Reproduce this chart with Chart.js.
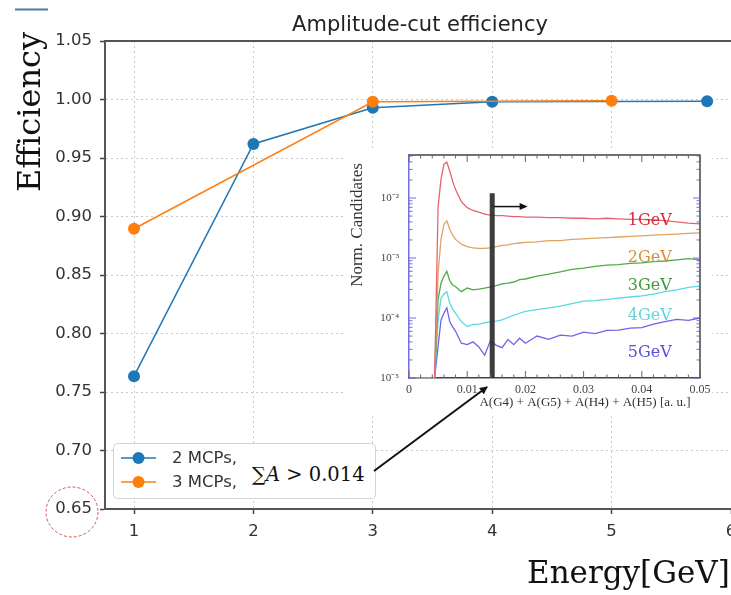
<!DOCTYPE html>
<html lang="en">
<head>
<meta charset="UTF-8">
<title>Amplitude-cut efficiency</title>
<script src="https://cdn.jsdelivr.net/npm/chart.js"></script>
<style>
  html, body { margin: 0; padding: 0; background: #fff; }
  #wrap { position: relative; width: 731px; height: 595px; overflow: hidden; }
  #mainChart { position: absolute; left: 0; top: 0; }
  #insetBox { position: absolute; left: 345px; top: 150px; width: 367px; height: 263px; background: #fff; }
  #cutLabel {
    position: absolute; left: 243px; top: 451px; width: 131px; height: 47px;
    background: #fff; font-family: "DejaVu Serif"; font-size: 19.5px; line-height: 47px;
    color: #111; padding-left: 9px; box-sizing: border-box; white-space: nowrap;
  }
  #overlay { position: absolute; left: 0; top: 0; pointer-events: none; }
</style>
</head>
<body>
<div id="wrap">
  <!-- canvas is a bit wider than the page: the plot runs past the right edge and gets cropped -->
  <canvas id="mainChart" width="745" height="595"></canvas>
  <div id="insetBox"><canvas id="insetChart" width="367" height="263"></canvas></div>
  <div id="cutLabel">&sum;<i>A</i> &gt; 0.014</div>
  <svg id="overlay" width="731" height="595">
    <defs>
      <marker id="head" markerWidth="8" markerHeight="8" refX="7" refY="4" orient="auto" markerUnits="userSpaceOnUse">
        <path d="M0,0 L8,4 L0,8 z" fill="#111"/>
      </marker>
    </defs>
    <line x1="374" y1="471" x2="487" y2="387" stroke="#111" stroke-width="2" marker-end="url(#head)"/>
  </svg>
</div>

<script>
// main plot: efficiency vs energy
const seriesLabels = ['2 MCPs,', '3 MCPs,'];
const energies2 = [1, 2, 3, 4, 5.8];
const eff2 = [0.7635, 0.962, 0.993, 0.998, 0.9985];
const energies3 = [1, 3, 5];
const eff3 = [0.8895, 0.998, 0.999];
const xTicks = [1, 2, 3, 4, 5, 6];
const yTicks = [0.65, 0.70, 0.75, 0.80, 0.85, 0.90, 0.95, 1.00, 1.05];

// inset: amplitude sum distributions
const ampBins = [0, 0.0044, 0.005, 0.0055, 0.006, 0.0065, 0.007, 0.0075, 0.008, 0.009, 0.010,
  0.011, 0.012, 0.013, 0.014, 0.015, 0.016, 0.017, 0.018, 0.019, 0.020,
  0.022, 0.024, 0.026, 0.028, 0.030, 0.032, 0.034, 0.036, 0.038, 0.040, 0.042, 0.044, 0.046, 0.048, 0.050];
const hist1GeV = [1e-5, 1e-5, 7.2e-3, 2.04e-2, 3.63e-2, 3.98e-2, 2.82e-2, 1.91e-2, 1.38e-2, 8.7e-3, 6.9e-3,
  6.2e-3, 5.8e-3, 5.4e-3, 5.2e-3, 5.1e-3, 5.1e-3, 5.0e-3, 4.9e-3, 4.9e-3, 4.8e-3,
  4.8e-3, 4.7e-3, 4.7e-3, 4.6e-3, 4.6e-3, 4.5e-3, 4.6e-3, 4.5e-3, 4.4e-3, 4.4e-3, 4.3e-3, 4.2e-3, 4.0e-3, 3.8e-3, 3.7e-3];
const hist2GeV = [1e-5, 1e-5, 5.6e-4, 2.04e-3, 3.63e-3, 4.17e-3, 3.02e-3, 2.40e-3, 2.04e-3, 1.70e-3, 1.55e-3,
  1.48e-3, 1.45e-3, 1.45e-3, 1.48e-3, 1.55e-3, 1.62e-3, 1.66e-3, 1.74e-3, 1.78e-3, 1.82e-3,
  1.86e-3, 1.95e-3, 1.95e-3, 2.04e-3, 2.09e-3, 2.14e-3, 2.19e-3, 2.24e-3, 2.29e-3, 2.34e-3, 2.40e-3, 2.45e-3, 2.51e-3, 2.57e-3, 2.63e-3];
const hist3GeV = [1e-5, 1e-5, 2.04e-4, 3.80e-4, 5.0e-4, 6.0e-4, 4.17e-4, 3.55e-4, 3.31e-4, 2.75e-4, 3.16e-4,
  2.95e-4, 3.02e-4, 3.16e-4, 3.31e-4, 3.47e-4, 3.72e-4, 3.80e-4, 3.98e-4, 4.37e-4, 4.47e-4,
  5.0e-4, 5.37e-4, 5.89e-4, 6.46e-4, 6.76e-4, 7.24e-4, 7.59e-4, 7.76e-4, 8.13e-4, 8.32e-4, 8.71e-4, 8.91e-4, 9.33e-4, 9.77e-4, 9.33e-4];
const hist4GeV = [1e-5, 1e-5, 9.3e-5, 2.14e-4, 2.51e-4, 2.75e-4, 1.78e-4, 1.41e-4, 1.20e-4, 8.7e-5, 7.2e-5,
  7.8e-5, 7.9e-5, 8.3e-5, 8.7e-5, 8.9e-5, 9.3e-5, 1.02e-4, 1.12e-4, 1.20e-4, 1.29e-4,
  1.38e-4, 1.48e-4, 1.58e-4, 1.74e-4, 1.91e-4, 1.95e-4, 2.04e-4, 2.14e-4, 2.24e-4, 2.34e-4, 2.51e-4, 2.75e-4, 2.95e-4, 3.24e-4, 3.39e-4];
const hist5GeV = [1e-5, 1e-5, 3.4e-5, 9.3e-5, 1.20e-4, 1.48e-4, 8.7e-5, 7.1e-5, 6.0e-5, 3.8e-5, 3.6e-5,
  4.0e-5, 3.3e-5, 2.4e-5, 4.2e-5, 3.5e-5, 3.2e-5, 4.4e-5, 3.6e-5, 4.6e-5, 3.8e-5,
  5.0e-5, 4.4e-5, 5.2e-5, 5.0e-5, 5.8e-5, 5.5e-5, 6.2e-5, 6.3e-5, 6.8e-5, 6.9e-5, 7.9e-5, 8.7e-5, 9.5e-5, 9.1e-5, 1.0e-4];
const energyLabels = ['1GeV', '2GeV', '3GeV', '4GeV', '5GeV'];
const ampTicks = [0, 0.01, 0.02, 0.03, 0.04, 0.05];
const candTicks = [1e-5, 1e-4, 1e-3, 1e-2];
const ampCut = 0.0143;
const cutTop = 0.012;
const arrowLevel = 0.0072;
const arrowEnd = 0.0197;

const toPoints = (xs, ys) => xs.map((x, i) => ({ x: x, y: ys[i] }));

// ---------------- main chart ----------------
const mainDecor = {
  id: 'mainDecor',
  afterDatasetsDraw(chart) {
    const { ctx, chartArea: a } = chart;
    ctx.save();
    // top spine
    ctx.strokeStyle = '#555';
    ctx.lineWidth = 2;
    ctx.beginPath();
    ctx.moveTo(a.left - 1, a.top);
    ctx.lineTo(a.right, a.top);
    ctx.stroke();

    // legend box
    ctx.fillStyle = 'rgba(255,255,255,0.85)';
    ctx.strokeStyle = '#d4d4d4';
    ctx.lineWidth = 1;
    ctx.beginPath();
    ctx.roundRect(113.5, 443.5, 262, 55, 4);
    ctx.fill();
    ctx.stroke();
    chart.data.datasets.forEach((ds, i) => {
      const yy = 458 + i * 24;
      ctx.strokeStyle = ds.borderColor;
      ctx.lineWidth = 1.5;
      ctx.beginPath();
      ctx.moveTo(121, yy);
      ctx.lineTo(156, yy);
      ctx.stroke();
      ctx.fillStyle = ds.backgroundColor;
      ctx.beginPath();
      ctx.arc(138.5, yy, 6, 0, Math.PI * 2);
      ctx.fill();
      ctx.fillStyle = '#333';
      ctx.font = '16.5px "DejaVu Sans"';
      ctx.textBaseline = 'middle';
      ctx.fillText(ds.label, 172, yy + 1);
    });
    ctx.restore();
  },
  afterDraw(chart) {
    const { ctx } = chart;
    ctx.save();
    // title
    ctx.fillStyle = '#222';
    ctx.font = '21px "DejaVu Sans"';
    ctx.textAlign = 'center';
    ctx.textBaseline = 'alphabetic';
    ctx.fillText('Amplitude-cut efficiency', 420, 31);

    // axis titles
    ctx.fillStyle = '#111';
    ctx.font = '31px "DejaVu Serif"';
    ctx.textAlign = 'left';
    ctx.fillText('Energy[GeV]', 527, 583);
    ctx.save();
    ctx.font = '32px "DejaVu Serif"';
    ctx.translate(40, 112);
    ctx.rotate(-Math.PI / 2);
    ctx.textAlign = 'center';
    ctx.fillText('Efficiency', 0, 0);
    ctx.restore();

    // red dashed circle round the 0.65 label
    ctx.strokeStyle = 'rgba(205,60,60,0.85)';
    ctx.lineWidth = 1;
    ctx.setLineDash([3, 2]);
    ctx.beginPath();
    ctx.ellipse(72, 512, 26, 25, 0, 0, Math.PI * 2);
    ctx.stroke();
    ctx.setLineDash([]);

    // small blue bar top-left
    ctx.strokeStyle = '#4a7fa0';
    ctx.lineWidth = 2;
    ctx.beginPath();
    ctx.moveTo(15, 9.5);
    ctx.lineTo(48, 9.5);
    ctx.stroke();
    ctx.restore();
  }
};

new Chart(document.getElementById('mainChart'), {
  type: 'line',
  data: {
    datasets: [{
      label: seriesLabels[0],
      data: toPoints(energies2, eff2),
      borderColor: '#1f77b4',
      backgroundColor: '#1f77b4',
      borderWidth: 1.5,
      pointRadius: 6,
      pointBorderWidth: 0,
      order: 1
    }, {
      label: seriesLabels[1],
      data: toPoints(energies3, eff3),
      borderColor: '#ff7f0e',
      backgroundColor: '#ff7f0e',
      borderWidth: 1.5,
      pointRadius: 6,
      pointBorderWidth: 0,
      order: 0
    }]
  },
  options: {
    responsive: false,
    animation: false,
    layout: { padding: { top: 41, left: 0, right: 0, bottom: 0 } },
    plugins: { legend: { display: false }, tooltip: { enabled: false } },
    scales: {
      x: {
        type: 'linear',
        min: 0.757,
        max: 6.067,
        afterBuildTicks: s => { s.ticks = xTicks.map(v => ({ value: v })); },
        afterFit: s => { s.height = 86; s.paddingLeft = 0; s.paddingRight = 0; },
        grid: { color: '#c8c8c8', lineWidth: 1, tickLength: 5, tickColor: '#444', tickWidth: 1.5, tickBorderDash: [] },
        border: { color: '#555', width: 2, dash: [2, 3] },
        ticks: { font: { family: 'DejaVu Sans', size: 16.5 }, color: '#333', padding: 8, maxRotation: 0, autoSkip: false, callback: v => String(v) }
      },
      y: {
        min: 0.65,
        max: 1.05,
        afterBuildTicks: s => { s.ticks = yTicks.map(v => ({ value: v })); },
        afterFit: s => { s.width = 105; },
        grid: { color: '#c8c8c8', lineWidth: 1, tickLength: 5, tickColor: '#444', tickWidth: 1.5, tickBorderDash: [] },
        border: { color: '#555', width: 2, dash: [2, 3] },
        ticks: { font: { family: 'DejaVu Sans', size: 16.5 }, color: '#333', padding: 8, autoSkip: false, callback: v => v.toFixed(2) }
      }
    }
  },
  plugins: [mainDecor]
});

// ---------------- inset chart ----------------
const insetDecor = {
  id: 'insetDecor',
  afterDatasetsDraw(chart) {
    const { ctx, chartArea: a, scales: { x, y } } = chart;
    ctx.save();
    // frame
    ctx.strokeStyle = '#444';
    ctx.lineWidth = 1.5;
    ctx.beginPath();
    ctx.moveTo(a.left, a.top);
    ctx.lineTo(a.right, a.top);
    ctx.lineTo(a.right, a.bottom);
    ctx.stroke();

    // inward ticks
    ctx.lineWidth = 1;
    ctx.strokeStyle = '#666';
    for (let v = 0; v <= 0.0501; v += 0.002) {
      const px = x.getPixelForValue(v);
      const len = Math.abs(v * 100 - Math.round(v * 100)) < 1e-6 ? 7 : 3.5;
      ctx.beginPath();
      ctx.moveTo(px, a.bottom); ctx.lineTo(px, a.bottom - len);
      ctx.moveTo(px, a.top); ctx.lineTo(px, a.top + len);
      ctx.stroke();
    }
    ctx.strokeStyle = 'rgba(100,95,215,0.9)';
    for (let d = -5; d <= -2; d++) {
      for (let m = 1; m <= 9; m++) {
        const v = m * Math.pow(10, d);
        if (v > y.max) break;
        const py = y.getPixelForValue(v);
        const len = m === 1 ? 7 : 3.5;
        ctx.beginPath();
        ctx.moveTo(a.left, py); ctx.lineTo(a.left + len, py);
        ctx.moveTo(a.right, py); ctx.lineTo(a.right - len, py);
        ctx.stroke();
      }
    }

    // arrow head on the cut arrow
    const hx = x.getPixelForValue(arrowEnd);
    const hy = y.getPixelForValue(arrowLevel);
    ctx.fillStyle = '#111';
    ctx.beginPath();
    ctx.moveTo(hx + 4, hy);
    ctx.lineTo(hx - 4, hy - 3.5);
    ctx.lineTo(hx - 4, hy + 3.5);
    ctx.closePath();
    ctx.fill();

    // energy labels
    const labelY = [3.55e-3, 8.6e-4, 2.93e-4, 9.3e-5, 2.24e-5];
    const labelColors = ['#d42a3a', '#d9903a', '#3c9a3c', '#62d4dd', '#5a4fd8'];
    ctx.font = '16px "DejaVu Serif"';
    ctx.textAlign = 'left';
    ctx.textBaseline = 'alphabetic';
    energyLabels.forEach((t, i) => {
      ctx.fillStyle = labelColors[i];
      ctx.fillText(t, x.getPixelForValue(0.0376), y.getPixelForValue(labelY[i]));
    });
    ctx.restore();
  },
  afterDraw(chart) {
    const { ctx } = chart;
    ctx.save();
    ctx.fillStyle = '#333';
    ctx.font = '13px "Liberation Serif"';
    ctx.textAlign = 'center';
    ctx.textBaseline = 'middle';
    ctx.fillText('A(G4) + A(G5) + A(H4) + A(H5) [a. u.]', 240, 253);
    ctx.translate(13, 75);
    ctx.rotate(-Math.PI / 2);
    ctx.font = '17px "Liberation Serif"';
    ctx.fillText('Norm. Candidates', 0, 0);
    ctx.restore();
  }
};

const histStyle = (label, color, data) => ({
  label: label,
  data: toPoints(ampBins, data),
  borderColor: color,
  borderWidth: 1.3,
  pointRadius: 0,
  tension: 0
});

new Chart(document.getElementById('insetChart'), {
  type: 'line',
  data: {
    datasets: [
      {
        label: 'cut',
        data: [{ x: ampCut, y: 1e-5 }, { x: ampCut, y: cutTop }],
        borderColor: 'rgba(45,45,45,0.92)',
        borderWidth: 5,
        pointRadius: 0
      },
      {
        label: 'arrow',
        data: [{ x: ampCut, y: arrowLevel }, { x: arrowEnd, y: arrowLevel }],
        borderColor: '#111',
        borderWidth: 1.5,
        pointRadius: 0
      },
      histStyle(energyLabels[0], 'rgb(228,100,115)', hist1GeV),
      histStyle(energyLabels[1], 'rgb(222,165,95)', hist2GeV),
      histStyle(energyLabels[2], 'rgb(80,170,70)', hist3GeV),
      histStyle(energyLabels[3], 'rgb(90,215,225)', hist4GeV),
      histStyle(energyLabels[4], 'rgb(110,100,235)', hist5GeV)
    ]
  },
  options: {
    responsive: false,
    animation: false,
    layout: { padding: { top: 5, right: 12, left: 0, bottom: 0 } },
    plugins: { legend: { display: false }, tooltip: { enabled: false } },
    scales: {
      x: {
        type: 'linear',
        min: 0,
        max: 0.05,
        afterBuildTicks: s => { s.ticks = ampTicks.map(v => ({ value: v })); },
        afterFit: s => { s.height = 35; s.paddingLeft = 0; s.paddingRight = 0; },
        grid: { display: false, drawTicks: false },
        border: { display: true, color: '#444', width: 1.5 },
        ticks: { font: { family: 'Liberation Serif', size: 12 }, color: '#444', padding: 5, maxRotation: 0, autoSkip: false, callback: v => v === 0 ? '0' : v.toFixed(2) }
      },
      y: {
        type: 'logarithmic',
        min: 1e-5,
        max: 0.0521,
        afterBuildTicks: s => { s.ticks = candTicks.map(v => ({ value: v })); },
        afterFit: s => { s.width = 64; s.paddingTop = 0; s.paddingBottom = 0; },
        grid: { display: false, drawTicks: false },
        border: { display: true, color: 'rgba(100,95,215,0.9)', width: 1.5 },
        ticks: {
          font: { family: 'Liberation Serif', size: 11 }, color: '#444', padding: 10, autoSkip: false,
          callback: v => '10' + { '-5': '\u207B\u2075', '-4': '\u207B\u2074', '-3': '\u207B\u00B3', '-2': '\u207B\u00B2' }[String(Math.round(Math.log10(v)))]
        }
      }
    }
  },
  plugins: [insetDecor]
});
</script>
</body>
</html>
